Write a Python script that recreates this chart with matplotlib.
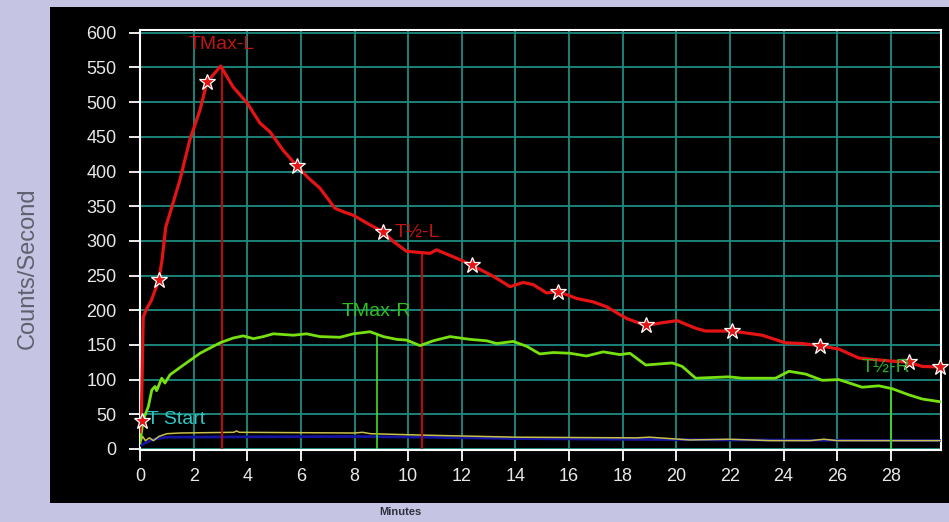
import matplotlib
matplotlib.use("Agg")
import matplotlib.pyplot as plt
from matplotlib.patches import Rectangle

plt.rcParams['font.family'] = ['Liberation Sans', 'DejaVu Sans']

# left kidney (red) curve
red_t = [0.0, 0.05, 0.12, 0.22, 0.42, 0.7, 0.82, 0.96, 1.12, 1.49, 1.86, 2.24,
         2.5, 3.01, 3.47, 3.99, 4.47, 4.85, 5.33, 5.85, 6.3, 6.71, 7.27, 7.58,
         7.95, 8.58, 9.07, 9.45, 9.94, 10.81, 11.06, 11.93, 12.37, 13.17, 13.8,
         14.29, 14.66, 15.16, 15.6, 16.28, 16.9, 17.4, 18.15, 18.86, 19.48,
         20.03, 20.72, 21.09, 22.08, 23.2, 24.07, 24.7, 25.34, 26.06, 26.81,
         27.93, 28.67, 29.17, 29.85]
red_v = [25, 45, 190, 200, 214, 243, 272, 320, 340, 388, 446, 489,
         529, 552, 522, 499, 470, 457, 431, 408, 390, 376, 347, 342,
         337, 323, 313, 299, 285, 282, 287, 273, 265, 249, 234,
         240, 237, 225, 227, 217, 212, 205, 188, 178, 182,
         185, 174, 170, 170, 164, 153, 152, 149, 144, 131,
         127, 125, 119, 118]

# stars on the left curve
star_t = [0.08, 0.7, 2.5, 5.85, 9.07, 12.37, 15.6, 18.86, 22.08, 25.34, 28.67, 29.85]
star_v = [40, 243, 529, 408, 313, 265, 227, 178, 170, 149, 125, 118]

# right kidney (green) curve
green_t = [0.0, 0.12, 0.31, 0.44, 0.56, 0.62, 0.81, 0.93, 1.12, 1.62, 2.24,
           2.98, 3.48, 3.85, 4.23, 4.6, 4.97, 5.72, 6.21, 6.71, 7.46, 7.95,
           8.58, 9.07, 9.57, 9.94, 10.44, 10.94, 11.56, 12.3, 12.92, 13.3,
           13.92, 14.42, 14.91, 15.41, 16.03, 16.65, 17.27, 17.9, 18.27,
           18.86, 19.85, 20.22, 20.72, 21.96, 22.46, 23.7, 24.2, 24.82,
           25.44, 26.06, 26.93, 27.55, 28.04, 28.67, 29.17, 29.85]
green_v = [9, 42, 61, 85, 90, 84, 102, 95, 107, 121, 138,
           153, 160, 163, 159, 162, 166, 164, 166, 162, 161, 166,
           169, 162, 158, 157, 149, 156, 162, 158, 156, 152,
           155, 148, 137, 139, 138, 134, 140, 136, 138,
           121, 124, 119, 102, 104, 102, 102, 112, 108,
           99, 100, 89, 91, 87, 78, 72, 68]

# background curves
yellow_t = [0.0, 0.1, 0.2, 0.35, 0.5, 0.7, 1.0, 1.5, 3.5, 3.6, 3.7, 8.0, 8.3,
            8.6, 10.5, 14.0, 18.5, 19.0, 20.5, 22.0, 23.5, 25.0, 25.5, 26.0, 29.9]
yellow_v = [8, 18, 12, 16, 12, 18, 22, 23, 24, 26, 24, 23, 24,
            22, 20, 17, 16, 17, 13, 14, 12, 12, 14, 12, 12]
blue_t = [0.0, 0.5, 1.0, 8.0, 10.5, 14.0, 18.0, 22.0, 29.9]
blue_v = [5, 14, 17, 18, 17, 15, 14, 13, 12]

# marker lines: (time, top value)
tmax_l = (3.05, 552)
thalf_l = (10.5, 283)
tmax_r = (8.85, 167)
thalf_r = (28.0, 87)

x_ticks = list(range(0, 30, 2))
y_ticks = list(range(0, 650, 50))

fig = plt.figure(figsize=(9.49, 5.22), dpi=100)
fig.patch.set_facecolor('#c5c5e3')
fig.patches.append(Rectangle((50 / 949, 1 - 503 / 522), 899 / 949, 496 / 522,
                             transform=fig.transFigure, facecolor='black',
                             edgecolor='none', zorder=-10))

ax = fig.add_axes([140 / 949, 1 - 450 / 522, 801 / 949, 420 / 522])
ax.set_zorder(5)
ax.set_facecolor('black')
ax.set_xlim(0, 29.87)
ax.set_ylim(-1.5, 604)
ax.set_xticks(x_ticks)
ax.set_yticks(y_ticks)
ax.grid(True, color='#1e8c82', linewidth=1.3)
ax.set_axisbelow(True)
for s in ax.spines.values():
    s.set_color('white')
    s.set_linewidth(1.5)
ax.tick_params(colors='white', labelcolor='#e8e8e8', labelsize=13,
               length=8, width=1.3)
ax.tick_params(axis='y', pad=9)
ax.tick_params(axis='x', pad=5)

ax.plot(blue_t, blue_v, color='#1414a0', linewidth=2, zorder=3)
ax.plot(yellow_t, yellow_v, color='#c8c048', linewidth=1.1, zorder=3)

ax.vlines(tmax_l[0], 0, tmax_l[1], color='#b80c0c', linewidth=1.5, zorder=3)
ax.vlines(thalf_l[0], 0, thalf_l[1], color='#b80c0c', linewidth=1.5, zorder=3)
ax.vlines(tmax_r[0], 0, tmax_r[1], color='#44dd22', linewidth=1.2, zorder=3)
ax.vlines(thalf_r[0], 0, thalf_r[1], color='#44dd22', linewidth=1.2, zorder=3)

ax.plot(green_t, green_v, color='#77e010', linewidth=2, zorder=4)
ax.plot(red_t, red_v, color='#e41414', linewidth=2.3, zorder=5)
ax.plot(star_t, star_v, linestyle='none', marker='*', markersize=12,
        markerfacecolor='#e41414', markeredgecolor='white',
        markeredgewidth=0.9, zorder=6, clip_on=False)

ax.text(3.05, 583, 'TMax-L', color='#c01414', fontsize=14,
        ha='center', va='center', zorder=7)
ax.text(9.5, 313, 'T½-L', color='#c01414', fontsize=14,
        ha='left', va='center', zorder=7)
ax.text(8.8, 198, 'TMax-R', color='#30c020', fontsize=14,
        ha='center', va='center', zorder=7)
ax.text(26.9, 118, 'T½-R', color='#28b028', fontsize=14,
        ha='left', va='center', zorder=7)
ax.text(0.25, 42, 'T Start', color='#30c4c4', fontsize=14,
        ha='left', va='center', zorder=7)

fig.text(28 / 949, 1 - 268 / 522, 'Counts/Second', rotation=90,
         color='#606070', fontsize=17, ha='center', va='center')
fig.text(400 / 949, 1 - 512 / 522, 'Minutes', color='#303040',
         fontsize=8, fontweight='bold', ha='center', va='center')

fig.savefig('out.png', dpi=100, facecolor=fig.get_facecolor())
